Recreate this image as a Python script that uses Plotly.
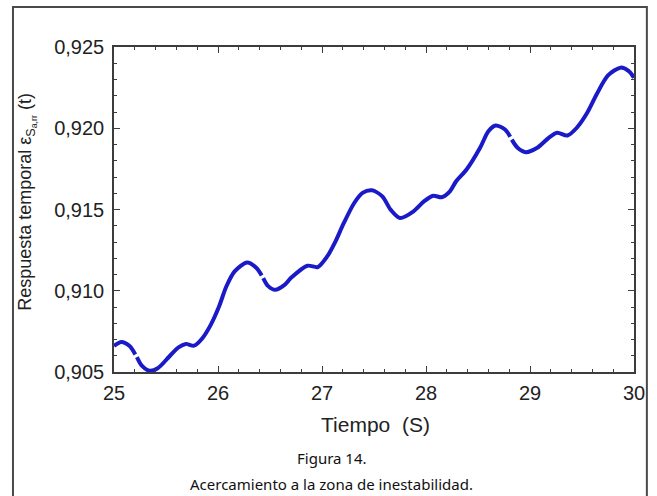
import plotly.graph_objects as go

# Time samples (s) and temporal response values; None marks small breaks in the trace
tiempo = [
    25.00, 25.07, 25.15, 25.205, None, 25.22, 25.27, 25.34, 25.42, 25.53, 25.62,
    25.69, 25.77, 25.85, 25.93, 26.01, 26.08, 26.16, 26.28, 26.37, 26.42, None,
    26.435, 26.48, 26.55, 26.64, 26.70, 26.86, 26.96, 27.05, 27.13, 27.21, 27.31,
    27.39, 27.48, 27.58, 27.66, 27.75, 27.88, 27.98, 28.07, 28.15, 28.23, 28.29,
    28.39, 28.52, 28.60, 28.67, 28.76, 28.81, None, 28.825, 28.88, 28.96, 29.07,
    29.18, 29.26, 29.36, 29.45, 29.55, 29.64, 29.75, 29.87, 29.95, 30.00,
]
respuesta = [
    0.90660, 0.90685, 0.90660, 0.90608, None, 0.90592, 0.90537, 0.90508, 0.90523, 0.90594, 0.90652,
    0.90673, 0.90662, 0.90708, 0.90790, 0.90903, 0.91026, 0.91119, 0.91174, 0.91140, 0.91094, None,
    0.91078, 0.91030, 0.91006, 0.91036, 0.91078, 0.91154, 0.91146, 0.91211, 0.91304, 0.91417, 0.91540,
    0.91602, 0.91618, 0.91581, 0.91499, 0.91448, 0.91489, 0.91550, 0.91585, 0.91575, 0.91612, 0.91674,
    0.91746, 0.91880, 0.91982, 0.92017, 0.91992, 0.91947, None, 0.91930, 0.91880, 0.91853, 0.91880,
    0.91941, 0.91972, 0.91955, 0.92003, 0.92095, 0.92208, 0.92325, 0.92373, 0.92352, 0.92311,
]

x_ticks = [25, 26, 27, 28, 29, 30]
y_ticks = [0.905, 0.910, 0.915, 0.920, 0.925]

W, H = 657, 496
ML, MR, MT, MB = 114, 18, 47, 124
PW, PH = W - ML - MR, H - MT - MB


def px_x(p):
    return (p - ML) / PW


def px_y(p):
    return (H - MB - p) / PH


AXIS = "#3c3c3c"
TXT = "#222222"
TICK_FONT = dict(family="Liberation Sans, Arial, sans-serif", size=20, color=TXT)

fig = go.Figure()
fig.add_trace(go.Scatter(
    x=tiempo, y=respuesta, mode="lines",
    line=dict(color="#1a1ac8", width=4, shape="spline", smoothing=0.8),
    connectgaps=False, hoverinfo="skip", showlegend=False,
))

axis_common = dict(
    showline=True, linecolor=AXIS, linewidth=1.5, mirror="allticks",
    ticks="inside", ticklen=6, tickwidth=1.3, tickcolor=AXIS,
    showgrid=False, zeroline=False, tickfont=TICK_FONT,
)

fig.update_xaxes(
    range=[25, 30], tickvals=x_ticks, ticktext=[str(v) for v in x_ticks],
    minor=dict(dtick=0.2, ticks="inside", ticklen=3, tickwidth=1.2, tickcolor=AXIS, showgrid=False),
    ticklabelstandoff=2,
    **axis_common,
)
fig.update_yaxes(
    range=[0.905, 0.925], tickvals=y_ticks, ticktext=[f"{v:.3f}".replace(".", ",") for v in y_ticks],
    minor=dict(dtick=0.001, ticks="inside", ticklen=3, tickwidth=1.2, tickcolor=AXIS, showgrid=False),
    ticklabelstandoff=4,
    **axis_common,
)

annotations = [
    dict(text="Tiempo  (S)", x=px_x(378), y=px_y(424), xref="paper", yref="paper",
         showarrow=False, xanchor="center", yanchor="middle",
         font=dict(family="Liberation Sans, Arial, sans-serif", size=21, color=TXT)),
    dict(text="Respuesta temporal ε<sub>S<sub>a,rr</sub></sub> (t)", x=px_x(26), y=px_y(202),
         xref="paper", yref="paper", showarrow=False, textangle=-90,
         xanchor="center", yanchor="middle",
         font=dict(family="Liberation Sans, Arial, sans-serif", size=18, color=TXT)),
    dict(text="Figura 14.", x=px_x(334), y=px_y(458), xref="paper", yref="paper",
         showarrow=False, xanchor="center", yanchor="middle",
         font=dict(family="Noto Sans, Open Sans, sans-serif", size=15, color="#111111")),
    dict(text="Acercamiento a la zona de inestabilidad.", x=px_x(334), y=px_y(484),
         xref="paper", yref="paper", showarrow=False, xanchor="center", yanchor="middle",
         font=dict(family="Noto Sans, Open Sans, sans-serif", size=15, color="#111111")),
]

# Frame around the whole figure
shapes = [dict(type="rect", xref="paper", yref="paper",
               x0=px_x(12), x1=px_x(652), y0=px_y(510), y1=px_y(7),
               line=dict(color="#4a4a4a", width=2), fillcolor="rgba(0,0,0,0)", layer="below")]

fig.update_layout(
    width=W, height=H,
    margin=dict(l=ML, r=MR, t=MT, b=MB),
    paper_bgcolor="white", plot_bgcolor="white",
    annotations=annotations, shapes=shapes,
    separators=",.",
)

fig.write_html("out.html", config={"displayModeBar": False})
